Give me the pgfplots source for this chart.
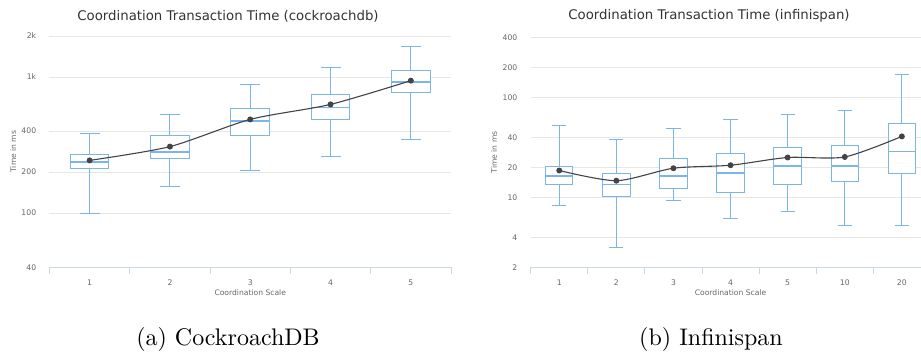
\documentclass[border=0pt]{standalone}
\usepackage{fontspec}
\usepackage{pgfplots}
\pgfplotsset{compat=1.18}
\newfontfamily\hcfont{DejaVu Sans}
\newfontfamily\capfont{lmroman10-regular.otf}
\definecolor{boxc}{HTML}{7CB5EC}
\definecolor{meanc}{HTML}{434348}
\definecolor{gridc}{HTML}{E6E6E6}
\definecolor{axisc}{HTML}{CCD6EB}
\definecolor{labc}{HTML}{666666}
\definecolor{titc}{HTML}{333333}
\pgfplotsset{
  hc/.style={
    scale only axis,
    axis x line=bottom,
    axis y line=left,
    axis line style={-},
    y axis line style={draw=none},
    x axis line style={draw=axisc, line width=1pt},
    ymajorgrids,
    major grid style={draw=gridc, line width=0.8pt},
    ytick style={draw=none},
    major x tick style={draw=none},
    minor x tick style={draw=axisc, line width=1pt},
    minor tick length=7pt,
    xtick align=outside,
    yminorticks=false,
    ticklabel style={font=\hcfont\fontsize{7.7}{9}\selectfont, text=labc},
    yticklabel style={anchor=east, inner sep=0pt, xshift=-11pt},
    xticklabel style={anchor=north, inner sep=0pt, yshift=-8.5pt},
    label style={font=\hcfont\fontsize{7.6}{9}\selectfont, text=labc},
    xlabel style={at={(axis description cs:0.5,0)}, anchor=center, yshift=-25.4pt},
    clip=false,
  },
  bxs/.style={solid, mark=none, draw=boxc, line width=1pt, line join=miter, forget plot},
  meanline/.style={smooth, tension=0.45, draw=meanc, line width=1.1pt, mark=*, mark size=2.4pt, mark options={fill=meanc, draw=meanc}},
}
% box: position, lower whisker, lower quartile, median, upper quartile, upper whisker
\newcommand\hcbox[6]{%
  \pgfmathsetmacro\bxl{#1-0.24}\pgfmathsetmacro\bxr{#1+0.24}%
  \pgfmathsetmacro\wxl{#1-0.125}\pgfmathsetmacro\wxr{#1+0.125}%
  \addplot[bxs] coordinates {(#1,#2) (#1,#3)};
  \addplot[bxs] coordinates {(#1,#5) (#1,#6)};
  \addplot[bxs] coordinates {(\wxl,#2) (\wxr,#2)};
  \addplot[bxs] coordinates {(\wxl,#6) (\wxr,#6)};
  \addplot[forget plot, mark=none, draw=none, fill=white] coordinates {(\bxl,#3) (\bxr,#3) (\bxr,#5) (\bxl,#5)} -- cycle;
  \addplot[bxs] coordinates {(\bxl,#3) (\bxr,#3) (\bxr,#5) (\bxl,#5)} -- cycle;
  \addplot[bxs, line width=1.5pt] coordinates {(\bxl,#4) (\bxr,#4)};
}
\begin{document}
\begin{tikzpicture}
\useasboundingbox (0pt,0pt) rectangle (921pt,-354pt);
% ---------- left: cockroachdb ----------
\begin{axis}[hc,
  ymode=log,
  anchor=south west,
  at={(49.5pt,-267.3pt)},
  width=401.5pt, height=231.3pt,
  xmin=-0.5, xmax=4.5,
  ymin=40, ymax=2000,
  xtick={0,1,2,3,4},
  ytick={40,100,200,400,1000,2000},
  yticklabels={40,100,200,400,1k,2k},
  xticklabels={1,2,3,4,5},
  minor xtick={-0.5,0.5,1.5,2.5,3.5,4.5},
  xlabel={Coordination Scale},
  ylabel={Time in ms},
  ylabel style={at={(axis description cs:-0.0902,0.5)}, anchor=center, rotate=0},
]
\hcbox{0}{100}{211}{238}{268}{385}
\hcbox{1}{157}{250}{282}{372}{533}
\hcbox{2}{204}{373}{474}{585}{883}
\hcbox{3}{261}{485}{598}{750}{1179}
\hcbox{4}{347}{771}{919}{1107}{1664}
\addplot[meanline] coordinates {(0,244) (1,308) (2,488) (3,629) (4,940)};
\end{axis}
\node[font=\hcfont\fontsize{13.3}{15}\selectfont, text=titc] at (228pt,-16pt) {Coordination Transaction Time (cockroachdb)};
% ---------- right: infinispan ----------
\begin{axis}[hc,
  ymode=log,
  anchor=south west,
  at={(530.7pt,-267.3pt)},
  width=399.7pt, height=230pt,
  xmin=-0.5, xmax=6.5,
  ymin=2, ymax=400,
  xtick={0,1,2,3,4,5,6},
  ytick={2,4,10,20,40,100,200,400},
  yticklabels={2,4,10,20,40,100,200,400},
  xticklabels={1,2,3,4,5,10,20},
  minor xtick={-0.5,0.5,1.5,2.5,3.5,4.5,5.5,6.5},
  xlabel={Coordination Scale},
  ylabel={Time in ms},
  ylabel style={at={(axis description cs:-0.0918,0.5)}, anchor=center, rotate=0},
]
\hcbox{0}{8.3}{13.4}{16.4}{20.2}{52}
\hcbox{1}{3.15}{10.2}{13.4}{17.3}{38}
\hcbox{2}{9.4}{12.3}{16.4}{24.7}{49.4}
\hcbox{3}{6.2}{11.2}{17.6}{27.5}{60.4}
\hcbox{4}{7.3}{13.4}{20.7}{31.5}{68.2}
\hcbox{5}{5.2}{14.3}{20.7}{33}{74.8}
\hcbox{6}{5.2}{17.3}{28.7}{54.7}{169.5}
\addplot[meanline] coordinates {(0,18.6) (1,14.7) (2,19.6) (3,21) (4,25.1) (5,25.4) (6,40.8)};
\end{axis}
\node[font=\hcfont\fontsize{13.3}{15}\selectfont, text=titc] at (709pt,-16pt) {Coordination Transaction Time (infinispan)};
% ---------- captions ----------
\node[anchor=base, font=\capfont\fontsize{24}{28}\selectfont] at (228pt,-345pt) {(a) CockroachDB};
\node[anchor=base, font=\capfont\fontsize{24}{28}\selectfont] at (711pt,-345pt) {(b) Infinispan};
\end{tikzpicture}
\end{document}
